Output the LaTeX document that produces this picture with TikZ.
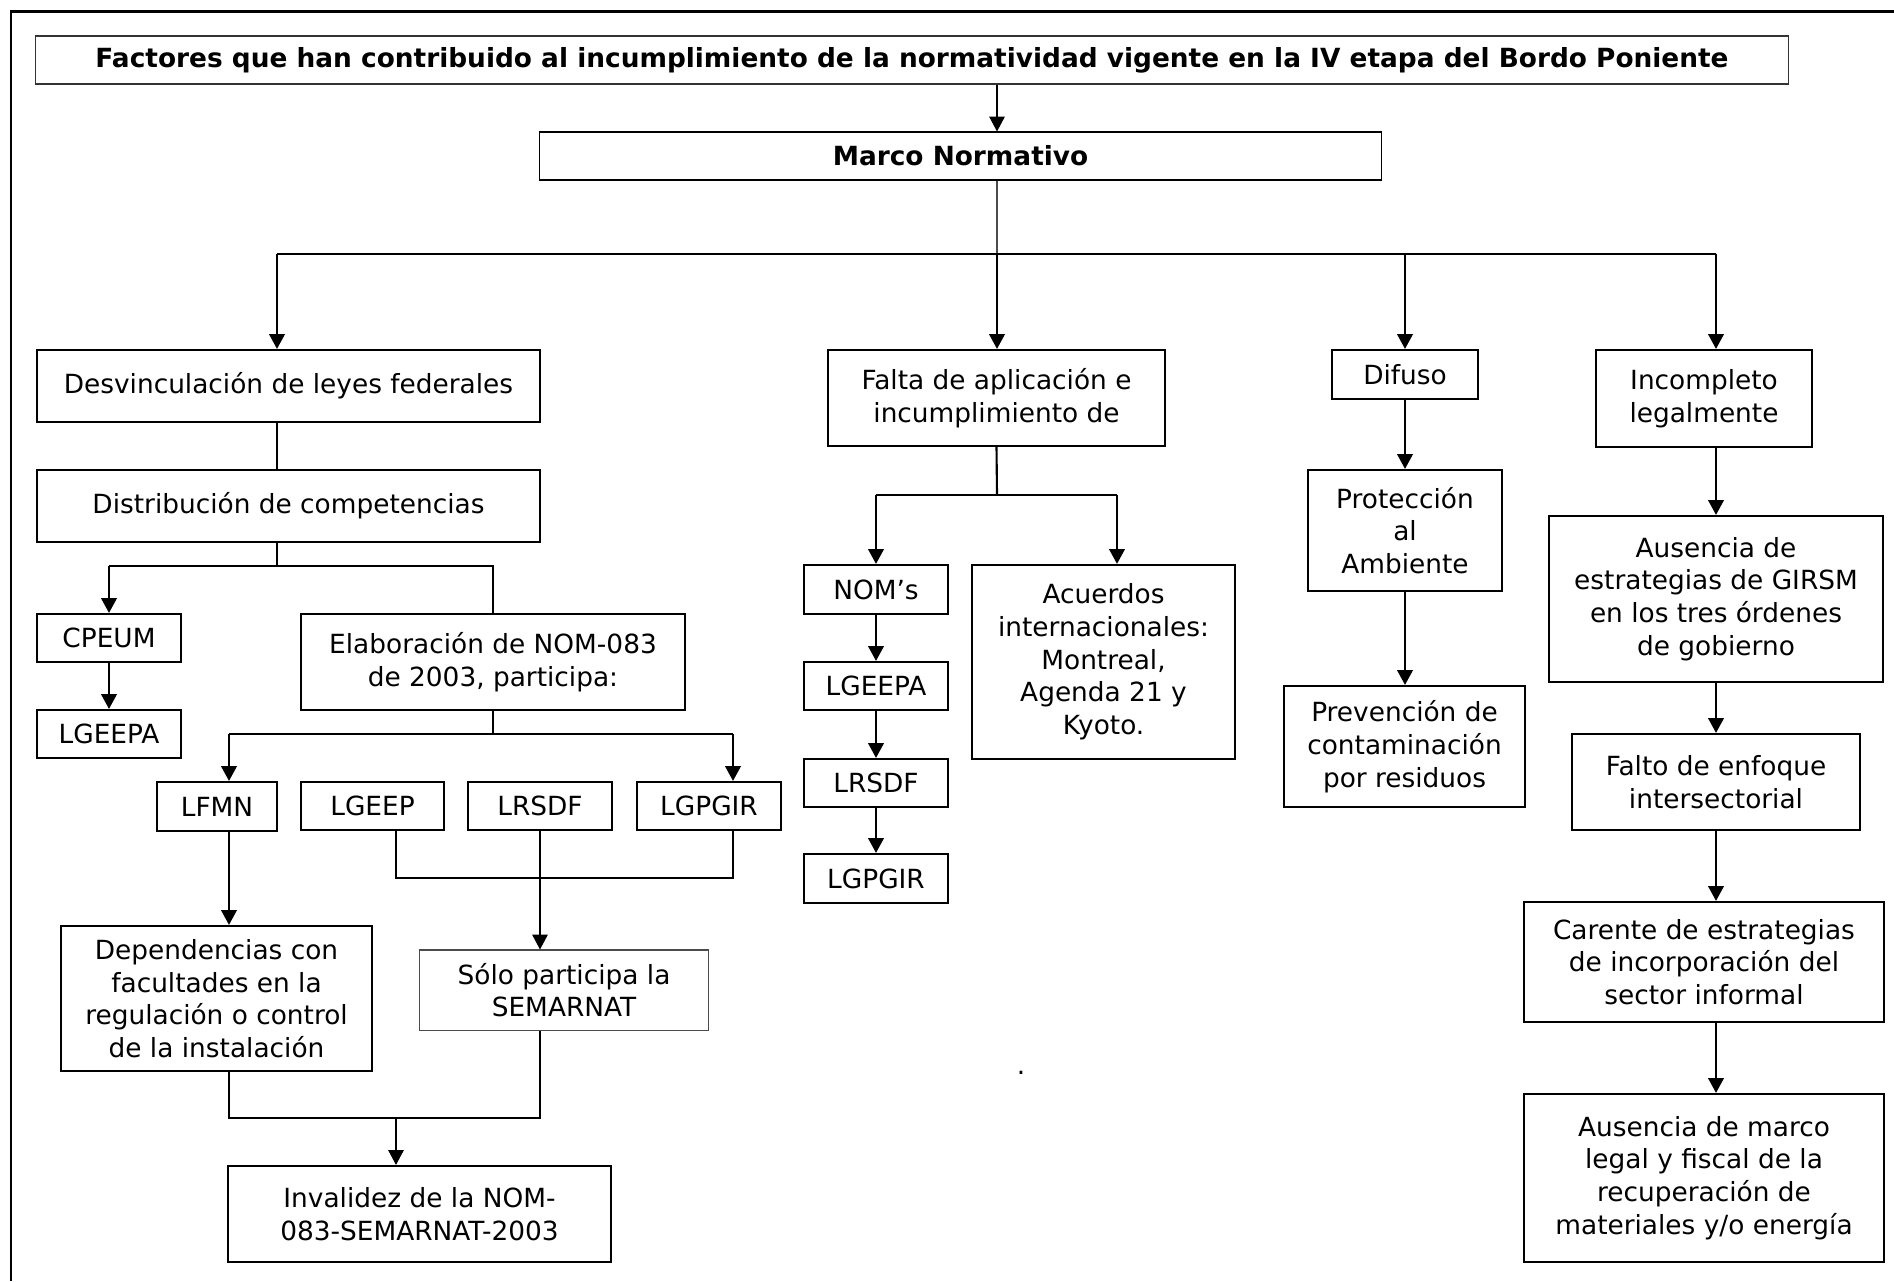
\documentclass[tikz,border=0pt]{standalone}
\usepackage{fontspec}
\setmainfont{DejaVu Sans}
\usetikzlibrary{arrows.meta}
\usetikzlibrary{calc}
\tikzset{
	caja/.style={draw, line width=0.6pt, align=center, inner sep=0pt,
		font=\fontsize{7.5}{9.3}\selectfont},
	tam/.style 2 args={minimum width=#1cm, minimum height=#2cm},
	fina/.style={line width=0.3pt},
	flecha/.style={-{Triangle[length=4.2pt,width=4.4pt]}},
	linea/.style={line width=0.6pt}
}

\begin{document}
\begin{tikzpicture}[x=0.01cm, y=-0.01cm]
	\useasboundingbox (0,0) rectangle (1894,1281);
	\draw[line width=0.85pt] (11,1281) -- (11,11) -- (1894,11);
	% encabezado
	\node[caja, fina, draw=black!80, tam={17.52}{0.48}, font=\fontsize{7.5}{9.3}\selectfont\bfseries] (titulo) at (912,60) {Factores que han contribuido al incumplimiento de la normatividad vigente en la IV etapa del Bordo Poniente};
	\node[caja, fina, tam={8.41}{0.48}, font=\fontsize{7.5}{9.3}\selectfont\bfseries] (marco) at (960.5,156) {Marco Normativo};
	\coordinate (bus) at (997,254);
	\coordinate (busA) at (277,254);
	\coordinate (busB) at (1716,254);
	\draw[fina, flecha] (titulo.south -| bus) -- (marco.north -| bus);
	\draw[fina, black!70] (marco.south -| bus) -- (bus);
	\draw[fina] (busA) -- (busB);
	% primer nivel
	\node[caja, tam={5.03}{0.72}] (desv) at (288.5,386) {Desvinculación de leyes federales};
	\node[caja, tam={3.37}{0.96}] (falta) at (996.5,398) {Falta de aplicación e\\incumplimiento de};
	\node[caja, tam={1.46}{0.49}] (difuso) at (1405,374.5) {Difuso};
	\node[caja, tam={2.16}{0.97}] (incomp) at (1704,398.5) {Incompleto\\legalmente};
	\draw[linea, flecha] (busA) -- (busA |- desv.north);
	\draw[linea, flecha] (bus) -- (bus |- falta.north);
	\draw[linea, flecha] (difuso.north |- bus) -- (difuso.north);
	\draw[linea, flecha] (busB) -- (busB |- incomp.north);
	% leyes federales
	\node[caja, tam={5.03}{0.72}] (distr) at (288.5,506) {Distribución de competencias};
	\node[caja, tam={1.44}{0.48}] (cpeum) at (109,638) {CPEUM};
	\node[caja, tam={1.44}{0.48}] (lgeepa) at (109,734) {LGEEPA};
	\node[caja, tam={3.84}{0.96}] (elab) at (493,662) {Elaboración de NOM-083\\de 2003, participa:};
	\node[caja, tam={1.20}{0.49}] (lfmn) at (217,806.5) {LFMN};
	\node[caja, tam={1.43}{0.48}] (lgeep) at (372.5,806) {LGEEP};
	\node[caja, tam={1.44}{0.48}] (lrsdf) at (540,806) {LRSDF};
	\node[caja, tam={1.44}{0.48}] (lgpgir) at (709,806) {LGPGIR};
	\node[caja, tam={3.11}{1.45}] (dep) at (216.5,998.5) {Dependencias con\\facultades en la\\regulación o control\\de la instalación};
	\node[caja, fina, draw=black!70, tam={2.88}{0.80}] (solo) at (564,990) {Sólo participa la\\SEMARNAT};
	\node[caja, tam={3.83}{0.96}] (inval) at (419.5,1214) {Invalidez de la NOM-\\083-SEMARNAT-2003};
	\coordinate (jA) at (277,566);
	\coordinate (jB) at (493,734);
	\coordinate (jB1) at (229,734);
	\coordinate (jB2) at (733,734);
	\coordinate (jC) at (396,878);
	\coordinate (jD) at (396,1118);
	\draw[linea] (desv.south -| busA) -- (distr.north -| busA);
	\draw[linea] (distr.south -| jA) -- (jA);
	\draw[linea] (cpeum.north |- jA) -- (elab.north |- jA) -- (elab.north);
	\draw[linea, flecha] (cpeum.north |- jA) -- (cpeum.north);
	\draw[linea, flecha] (cpeum) -- (lgeepa);
	\draw[linea] (elab.south) -- (jB);
	\draw[linea] (jB1) -- (jB2);
	\draw[linea, flecha] (jB1) -- (jB1 |- lfmn.north);
	\draw[linea, flecha] (jB2) -- (jB2 |- lgpgir.north);
	\draw[linea] (lgeep.south -| jC) -- (jC) -- (jC -| jB2) -- (lgpgir.south -| jB2);
	\draw[fina, flecha] (lrsdf.south) -- (lrsdf.south |- solo.north);
	\draw[linea, flecha] (lfmn.south -| jB1) -- (dep.north -| jB1);
	\draw[fina] (dep.south -| jB1) -- (jB1 |- jD) -- (jD -| lrsdf) -- (solo.south -| lrsdf);
	\draw[fina, flecha] (jD) -- (jD |- inval.north);
	% aplicacion
	\node[caja, tam={1.44}{0.49}] (nom) at (876,589.5) {NOM’s};
	\node[caja, tam={1.44}{0.48}] (lgeepab) at (876,686) {LGEEPA};
	\node[caja, tam={1.44}{0.48}] (lrsdfb) at (876,783) {LRSDF};
	\node[caja, tam={1.44}{0.49}] (lgpgirb) at (876,878.5) {LGPGIR};
	\node[caja, tam={2.63}{1.94}] (acuerdos) at (1103.5,662) {Acuerdos\\internacionales:\\Montreal,\\Agenda 21 y\\Kyoto.};
	\coordinate (jE) at (997,495);
	\coordinate (jE2) at (1117,495);
	\draw[linea] (falta.south) -- (jE);
	\draw[linea] (nom.north |- jE) -- (jE2);
	\draw[linea, flecha] (nom.north |- jE) -- (nom.north);
	\draw[linea, flecha] (jE2) -- (jE2 |- acuerdos.north);
	\draw[linea, flecha] (nom) -- (lgeepab);
	\draw[linea, flecha] (lgeepab) -- (lrsdfb);
	\draw[linea, flecha] (lrsdfb) -- (lgpgirb);
	% difuso
	\node[caja, tam={1.94}{1.21}] (prot) at (1405,530.5) {Protección\\al\\Ambiente};
	\node[caja, tam={2.41}{1.21}] (prev) at (1404.5,746.5) {Prevención de\\contaminación\\por residuos};
	\draw[linea, flecha] (difuso) -- (prot);
	\draw[linea, flecha] (prot.south) -- (prot.south |- prev.north);
	% incompleto
	\node[caja, tam={3.34}{1.66}] (ausa) at (1716,599) {Ausencia de\\estrategias de GIRSM\\en los tres órdenes\\de gobierno};
	\node[caja, tam={2.88}{0.96}] (falto) at (1716,782) {Falto de enfoque\\intersectorial};
	\node[caja, tam={3.60}{1.20}] (carente) at (1704,962) {Carente de estrategias\\de incorporación del\\sector informal};
	\node[caja, tam={3.60}{1.68}] (ausb) at (1704,1178) {Ausencia de marco\\legal y fiscal de la\\recuperación de\\materiales y/o energía};
	\draw[linea, flecha] (incomp.south -| busB) -- (ausa.north -| busB);
	\draw[linea, flecha] (ausa) -- (falto);
	\draw[linea, flecha] (falto.south) -- (falto.south |- carente.north);
	\draw[linea, flecha] (carente.south -| falto) -- (ausb.north -| falto);
	\node[inner sep=0pt, font=\fontsize{7.5}{9.3}\selectfont] (punto) at (1021,1073) {.};
\end{tikzpicture}
\end{document}
